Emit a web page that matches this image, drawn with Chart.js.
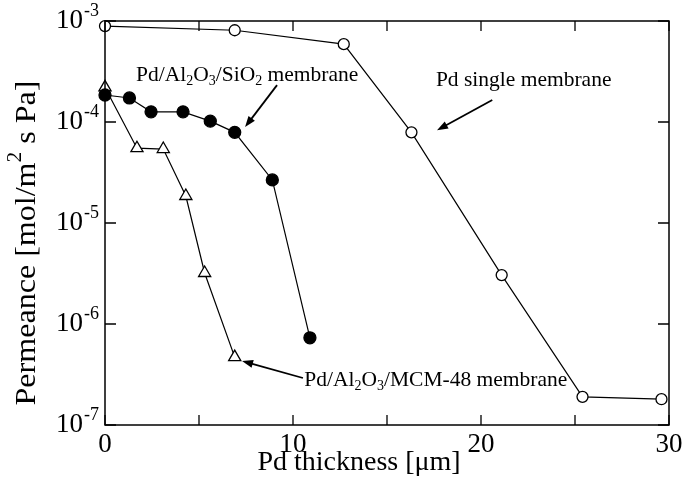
<!DOCTYPE html>
<html><head><meta charset="utf-8">
<script src="https://cdn.jsdelivr.net/npm/chart.js@4"></script>
<style>html,body{margin:0;padding:0;background:#fff}#wrap{width:685px;height:497px}</style>
</head><body><div id="wrap"><canvas id="c" width="685" height="497"></canvas></div>
<script>
// Data
const singleX = [0, 6.9, 12.7, 16.3, 21.1, 25.4, 29.6];
const singleY = [8.9e-4, 8.1e-4, 5.9e-4, 7.9e-5, 3.05e-6, 1.9e-7, 1.8e-7];
const sio2X = [0, 1.3, 2.45, 4.15, 5.6, 6.9, 8.9, 10.9];
const sio2Y = [1.85e-4, 1.73e-4, 1.26e-4, 1.26e-4, 1.02e-4, 7.9e-5, 2.67e-5, 7.3e-7];
const mcmX = [0, 1.7, 3.1, 4.3, 5.3, 6.9];
const mcmY = [2.2e-4, 5.5e-5, 5.4e-5, 1.85e-5, 3.2e-6, 4.7e-7];
const xTickLabels = [0, 10, 20, 30];
const xTickMarks = [0, 5, 10, 15, 20, 25, 30];
const yTickExponents = [-3, -4, -5, -6, -7];

const SERIF = '"Liberation Serif", "Times New Roman", serif';
const pts = (xs, ys) => xs.map((x, i) => ({x, y: ys[i]}));

// annotations (positions in data coordinates)
const notes = [
  {x: 1.65, y: 2.9e-4, parts: [['Pd/Al','n'],['2','b'],['O','n'],['3','b'],['/SiO','n'],['2','b'],[' membrane','n']],
   from: [9.15, 2.32e-4], to: [7.45, 8.9e-5]},
  {x: 17.6, y: 2.61e-4, parts: [['Pd single membrane','n']],
   from: [20.6, 1.65e-4], to: [17.66, 8.3e-5]},
  {x: 10.6, y: 2.79e-7, parts: [['Pd/Al','n'],['2','b'],['O','n'],['3','b'],['/MCM-48 membrane','n']],
   from: [10.53, 2.92e-7], to: [7.29, 4.3e-7]}
];

function arrow(ctx, x1, y1, x2, y2) {
  const a = Math.atan2(y2 - y1, x2 - x1), L = 11, W = 4;
  ctx.beginPath(); ctx.moveTo(x1, y1);
  ctx.lineTo(x2 - Math.cos(a) * L * 0.8, y2 - Math.sin(a) * L * 0.8);
  ctx.lineWidth = 1.8; ctx.strokeStyle = '#000'; ctx.stroke();
  ctx.beginPath(); ctx.moveTo(x2, y2);
  ctx.lineTo(x2 - Math.cos(a) * L - Math.sin(a) * W, y2 - Math.sin(a) * L + Math.cos(a) * W);
  ctx.lineTo(x2 - Math.cos(a) * L + Math.sin(a) * W, y2 - Math.sin(a) * L - Math.cos(a) * W);
  ctx.closePath(); ctx.fillStyle = '#000'; ctx.fill();
}

function richText(ctx, x, y, parts, size) {
  ctx.textBaseline = 'middle'; ctx.textAlign = 'left'; ctx.fillStyle = '#000';
  let cx = x;
  for (const [t, m] of parts) {
    if (m === 'n') { ctx.font = size + 'px ' + SERIF; ctx.fillText(t, cx, y); }
    else if (m === 'b') { ctx.font = Math.round(size * 0.65) + 'px ' + SERIF; ctx.fillText(t, cx, y + size * 0.3); }
    else { ctx.font = Math.round(size * 0.65) + 'px ' + SERIF; ctx.fillText(t, cx, y - size * 0.38); }
    cx += ctx.measureText(t).width;
  }
}

const deco = {
  id: 'deco',
  afterDraw(chart) {
    const ctx = chart.ctx, xs = chart.scales.x, ys = chart.scales.y, a = chart.chartArea;
    ctx.save();
    // frame
    ctx.strokeStyle = '#000'; ctx.lineWidth = 1.5;
    ctx.strokeRect(a.left, a.top, a.right - a.left, a.bottom - a.top);
    // ticks (inward, mirrored)
    ctx.lineWidth = 1.3; ctx.beginPath();
    for (const v of xTickMarks) {
      const p = xs.getPixelForValue(v);
      ctx.moveTo(p, a.bottom); ctx.lineTo(p, a.bottom - 10);
      ctx.moveTo(p, a.top); ctx.lineTo(p, a.top + 10);
    }
    for (const e of yTickExponents) {
      const p = ys.getPixelForValue(Math.pow(10, e));
      ctx.moveTo(a.left, p); ctx.lineTo(a.left + 11, p);
      ctx.moveTo(a.right, p); ctx.lineTo(a.right - 11, p);
    }
    ctx.stroke();
    // tick labels
    ctx.fillStyle = '#000';
    ctx.font = '27px ' + SERIF; ctx.textAlign = 'center'; ctx.textBaseline = 'middle';
    for (const v of xTickLabels) ctx.fillText(String(v), xs.getPixelForValue(v), a.bottom + 20);
    for (const e of yTickExponents) {
      const p = ys.getPixelForValue(Math.pow(10, e));
      ctx.font = '27px ' + SERIF; ctx.textAlign = 'right'; ctx.textBaseline = 'middle';
      ctx.fillText('10', 83, p);
      ctx.font = '18px ' + SERIF; ctx.textAlign = 'left';
      ctx.fillText(String(e), 84, p - 10);
    }
    // axis titles
    ctx.font = '28px ' + SERIF; ctx.textAlign = 'center'; ctx.textBaseline = 'middle';
    ctx.fillText('Pd thickness [\u03bcm]', 359, 463);
    ctx.save(); ctx.translate(25, 243); ctx.rotate(-Math.PI / 2);
    ctx.font = '30px ' + SERIF;
    const w1 = ctx.measureText('Permeance [mol/m').width, w3 = ctx.measureText(' s Pa]').width;
    ctx.font = '20px ' + SERIF; const w2 = ctx.measureText('2').width;
    const tot = w1 + w2 + w3, k = 325 / tot;
    ctx.scale(k, 1);
    let sx = -tot / 2;
    ctx.textAlign = 'left'; ctx.font = '30px ' + SERIF; ctx.fillText('Permeance [mol/m', sx, 2);
    ctx.font = '20px ' + SERIF; ctx.fillText('2', sx + w1, -9);
    ctx.font = '30px ' + SERIF; ctx.fillText(' s Pa]', sx + w1 + w2, 2);
    ctx.restore();
    // annotations
    for (const n of notes) {
      richText(ctx, xs.getPixelForValue(n.x), ys.getPixelForValue(n.y), n.parts, 21.5);
      arrow(ctx, xs.getPixelForValue(n.from[0]), ys.getPixelForValue(n.from[1]),
                 xs.getPixelForValue(n.to[0]), ys.getPixelForValue(n.to[1]));
    }
    ctx.restore();
  }
};

const common = {showLine: true, borderColor: '#000', borderWidth: 1.2, pointBorderColor: '#000', pointBorderWidth: 1.3, clip: false};

new Chart(document.getElementById('c'), {
  type: 'scatter',
  data: {datasets: [
    Object.assign({label: 'Pd single membrane', data: pts(singleX, singleY), pointStyle: 'circle', pointRadius: 5.5, pointBackgroundColor: '#fff'}, common),
    Object.assign({label: 'Pd/Al2O3/SiO2 membrane', data: pts(sio2X, sio2Y), pointStyle: 'circle', pointRadius: 6, pointBackgroundColor: '#000'}, common),
    Object.assign({label: 'Pd/Al2O3/MCM-48 membrane', data: pts(mcmX, mcmY), pointStyle: 'triangle', pointRadius: 7, pointBackgroundColor: '#fff'}, common)
  ]},
  options: {
    responsive: false, animation: false, devicePixelRatio: 1,
    layout: {padding: {top: 21, right: 16, left: 0, bottom: 0}},
    plugins: {legend: {display: false}, tooltip: {enabled: false}},
    scales: {
      x: {type: 'linear', min: 0, max: 30, grid: {display: false}, border: {display: false},
          ticks: {display: false}, afterFit(s) { s.height = 72; }},
      y: {type: 'logarithmic', min: 1e-7, max: 1e-3, grid: {display: false}, border: {display: false},
          ticks: {display: false}, afterFit(s) { s.width = 105; }}
    }
  },
  plugins: [deco]
});
</script></body></html>
